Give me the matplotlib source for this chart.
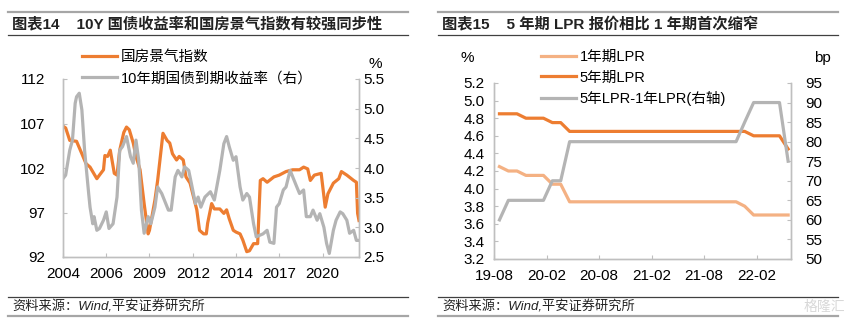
import matplotlib
matplotlib.use("Agg")
import matplotlib.pyplot as plt
from matplotlib.lines import Line2D
import pandas as pd

plt.rcParams['font.family'] = ['Liberation Sans', 'Noto Sans CJK SC']

# ---- chart 14: house climate index vs 10y gov bond yield ----
house_dates = ['2004-01', '2004-03', '2004-06', '2004-11', '2005-03', '2005-06', '2005-09',
               '2006-02', '2006-04', '2006-07', '2006-08', '2006-10', '2006-12', '2007-03',
               '2007-05', '2007-07', '2007-10', '2007-12', '2008-02', '2008-05', '2008-07',
               '2008-10', '2009-01', '2009-04', '2009-05', '2009-09', '2009-11', '2010-03',
               '2010-06', '2010-08', '2010-10', '2011-01', '2011-03', '2011-06', '2011-08',
               '2011-11', '2012-01', '2012-04', '2012-06', '2012-09', '2012-11', '2012-12',
               '2013-03', '2013-05', '2013-09', '2013-12', '2014-02', '2014-04', '2014-07',
               '2014-09', '2014-12', '2015-02', '2015-05', '2015-07', '2015-10', '2016-01',
               '2016-03', '2016-05', '2016-08', '2017-01', '2017-05', '2017-10', '2018-03',
               '2018-08', '2018-11', '2019-02', '2019-04', '2019-07', '2019-12', '2020-03',
               '2020-05', '2020-09', '2021-01', '2021-03', '2021-07', '2021-12', '2022-02',
               '2022-03', '2022-04']
house_index = [106.7, 106.5, 105.1, 105.0, 103.6, 102.5, 102.1,
               100.8, 101.2, 101.8, 103.4, 103.3, 104.0, 101.4,
               101.2, 104.0, 106.0, 106.6, 106.3, 104.8, 103.3,
               101.8, 98.0, 94.6, 95.0, 98.4, 100.6, 105.9,
               105.1, 104.8, 103.6, 102.9, 103.3, 102.9, 101.0,
               100.3, 99.1, 97.3, 95.0, 94.6, 94.6, 95.8,
               98.0, 97.4, 97.4, 96.9, 97.3, 96.3, 95.0,
               94.8, 94.6, 93.9, 92.6, 92.7, 93.5, 93.5,
               100.6, 100.8, 100.4, 101.0, 101.2, 101.6, 101.8,
               101.8, 102.1, 101.9, 100.6, 101.2, 101.4, 97.6,
               99.1, 100.3, 100.8, 101.6, 101.2, 100.6, 100.4,
               96.9, 96.1]

bond_dates = ['2004-01', '2004-03', '2004-06', '2004-08', '2004-10', '2004-11', '2005-01',
              '2005-03', '2005-05', '2005-08', '2005-09', '2005-11', '2005-12', '2006-02',
              '2006-04', '2006-07', '2006-09', '2006-11', '2007-02', '2007-05', '2007-07',
              '2007-09', '2007-12', '2008-03', '2008-05', '2008-07', '2008-09', '2008-11',
              '2009-01', '2009-04', '2009-06', '2009-09', '2009-11', '2010-02', '2010-04',
              '2010-07', '2010-09', '2010-12', '2011-02', '2011-05', '2011-07', '2011-10',
              '2011-12', '2012-03', '2012-05', '2012-07', '2012-10', '2013-02', '2013-05',
              '2013-09', '2013-12', '2014-02', '2014-04', '2014-07', '2014-09', '2014-12',
              '2015-02', '2015-05', '2015-07', '2015-10', '2015-12', '2016-05', '2016-08',
              '2016-10', '2017-01', '2017-03', '2017-05', '2017-08', '2017-10', '2018-01',
              '2018-03', '2018-06', '2018-08', '2018-11', '2019-01', '2019-04', '2019-06',
              '2019-09', '2019-11', '2020-02', '2020-04', '2020-06', '2020-09', '2020-11',
              '2021-02', '2021-04', '2021-07', '2021-09', '2021-12', '2022-02', '2022-04']
bond_yield = [3.82, 3.88, 4.30, 4.47, 5.09, 5.20, 5.26,
              4.98, 4.30, 3.57, 3.34, 3.06, 3.18, 2.95,
              2.98, 3.12, 3.26, 2.98, 3.06, 3.51, 4.30,
              4.36, 4.53, 4.19, 4.08, 4.47, 4.13, 3.29,
              2.90, 3.18, 3.06, 3.34, 3.68, 3.57, 3.46,
              3.29, 3.29, 3.85, 3.96, 3.85, 4.02, 3.96,
              3.74, 3.40, 3.51, 3.34, 3.51, 3.60, 3.46,
              3.96, 4.41, 4.53, 4.36, 4.13, 4.19, 3.68,
              3.46, 3.57, 3.51, 3.06, 2.84, 2.89, 2.95,
              2.75, 2.73, 3.34, 3.40, 3.63, 3.68, 3.96,
              3.85, 3.68, 3.57, 3.63, 3.18, 3.18, 3.29,
              3.12, 3.23, 3.00, 2.73, 2.56, 2.95, 3.12,
              3.26, 3.23, 3.12, 2.90, 2.95, 2.78, 2.78]

left_ticks = ['2004-01', '2006-09', '2009-05', '2012-01', '2014-09', '2017-05', '2020-01']
left_tick_labels = ['2004', '2006', '2009', '2012', '2014', '2017', '2020']

# ---- chart 15: LPR ----
lpr_months = ['2019-08', '2019-09', '2019-10', '2019-11', '2019-12', '2020-01', '2020-02',
              '2020-03', '2020-04', '2020-05', '2020-06', '2020-07', '2020-08', '2020-09',
              '2020-10', '2020-11', '2020-12', '2021-01', '2021-02', '2021-03', '2021-04',
              '2021-05', '2021-06', '2021-07', '2021-08', '2021-09', '2021-10', '2021-11',
              '2021-12', '2022-01', '2022-02', '2022-03', '2022-04', '2022-05']
lpr_1y = [4.25, 4.20, 4.20, 4.15, 4.15, 4.15, 4.05,
          4.05, 3.85, 3.85, 3.85, 3.85, 3.85, 3.85,
          3.85, 3.85, 3.85, 3.85, 3.85, 3.85, 3.85,
          3.85, 3.85, 3.85, 3.85, 3.85, 3.85, 3.85,
          3.80, 3.70, 3.70, 3.70, 3.70, 3.70]
lpr_5y = [4.85, 4.85, 4.85, 4.80, 4.80, 4.80, 4.75,
          4.75, 4.65, 4.65, 4.65, 4.65, 4.65, 4.65,
          4.65, 4.65, 4.65, 4.65, 4.65, 4.65, 4.65,
          4.65, 4.65, 4.65, 4.65, 4.65, 4.65, 4.65,
          4.65, 4.60, 4.60, 4.60, 4.60, 4.45]
spread_bp = [60, 65, 65, 65, 65, 65, 70,
             70, 80, 80, 80, 80, 80, 80,
             80, 80, 80, 80, 80, 80, 80,
             80, 80, 80, 80, 80, 80, 80,
             85, 90, 90, 90, 90, 75]

right_ticks = ['2019-08', '2020-02', '2020-08', '2021-02', '2021-08', '2022-02']
right_tick_labels = ['19-08', '20-02', '20-08', '21-02', '21-08', '22-02']

ORANGE = '#ED7D31'
LIGHT_ORANGE = '#F4B183'
GRAY = '#B4B4B4'
SPINE = '#BFBFBF'

W, H = 849, 325
fig = plt.figure(figsize=(W / 100, H / 100), dpi=100)


def fx(px):
    return px / W


def fy(py):
    return 1 - py / H


def hline(x0, x1, y, color, lw):
    fig.add_artist(Line2D([fx(x0), fx(x1)], [fy(y), fy(y)], color=color, lw=lw,
                          transform=fig.transFigure))


def style_axes(ax, ax2):
    for a in (ax, ax2):
        a.spines['top'].set_visible(False)
        for s in ('left', 'right', 'bottom'):
            a.spines[s].set_color(SPINE)
            a.spines[s].set_linewidth(1.0)
        a.tick_params(direction='in', color=SPINE, length=3, labelsize=11)


# ---------- left chart ----------
ax1 = fig.add_axes([fx(63), fy(257), fx(359) - fx(63), fy(79) - fy(257)])
ax1b = ax1.twinx()
hd = pd.to_datetime(house_dates)
bd = pd.to_datetime(bond_dates)
l1, = ax1.plot(hd, house_index, color=ORANGE, lw=2.3, solid_joinstyle='round')
l2, = ax1b.plot(bd, bond_yield, color=GRAY, lw=2.3, solid_joinstyle='round')
ax1.set_ylim(92, 112)
ax1.set_yticks([92, 97, 102, 107, 112])
ax1b.set_ylim(2.5, 5.5)
ax1b.set_yticks([2.5, 3.0, 3.5, 4.0, 4.5, 5.0, 5.5])
ax1b.set_yticklabels(['%.1f' % v for v in [2.5, 3.0, 3.5, 4.0, 4.5, 5.0, 5.5]])
ax1.set_xlim(pd.Timestamp('2004-01-01'), pd.Timestamp('2022-04-01'))
ax1.set_xticks(pd.to_datetime(left_ticks))
ax1.set_xticklabels(left_tick_labels)
style_axes(ax1, ax1b)
ax1.tick_params(axis='y', pad=13)
ax1.tick_params(axis='x', pad=7)
ax1b.tick_params(axis='y', pad=3)

fig.legend([l1, l2], ['国房景气指数', '10年期国债到期收益率（右）'], loc='upper left',
           bbox_to_anchor=(fx(82), fy(50)), frameon=False, borderpad=0, borderaxespad=0,
           handlelength=2.4, handletextpad=0.25, labelspacing=0.5, fontsize=10.5)
fig.text(fx(375), fy(64), '%', fontsize=11, ha='center', va='center')

# ---------- right chart ----------
ax2 = fig.add_axes([fx(494), fy(259), fx(791) - fx(494), fy(83) - fy(259)])
ax2b = ax2.twinx()
ld = pd.to_datetime(lpr_months) + pd.Timedelta(days=19)
r1, = ax2.plot(ld, lpr_1y, color=LIGHT_ORANGE, lw=2.3)
r2, = ax2.plot(ld, lpr_5y, color=ORANGE, lw=2.3)
r3, = ax2b.plot(ld, spread_bp, color=GRAY, lw=2.3)
ax2.set_ylim(3.2, 5.2)
yt = [3.2, 3.4, 3.6, 3.8, 4.0, 4.2, 4.4, 4.6, 4.8, 5.0, 5.2]
ax2.set_yticks(yt)
ax2.set_yticklabels(['%.1f' % v for v in yt])
ax2b.set_ylim(50, 95)
ax2b.set_yticks(range(50, 96, 5))
ax2.set_xlim(pd.Timestamp('2019-08-01'), pd.Timestamp('2022-05-30'))
ax2.set_xticks(pd.to_datetime(right_ticks))
ax2.set_xticklabels(right_tick_labels)
style_axes(ax2, ax2b)
ax2.tick_params(axis='y', pad=7)
ax2.tick_params(axis='x', pad=7)
ax2b.tick_params(axis='y', pad=10)

fig.legend([r1, r2, r3], ['1年期LPR', '5年期LPR', '5年LPR-1年LPR(右轴)'], loc='upper left',
           bbox_to_anchor=(fx(541), fy(50)), frameon=False, borderpad=0, borderaxespad=0,
           handlelength=2.4, handletextpad=0.25, labelspacing=0.45, fontsize=10.5)
fig.text(fx(467), fy(58), '%', fontsize=11, ha='center', va='center')
fig.text(fx(822), fy(58), 'bp', fontsize=11, ha='center', va='center')

# ---------- titles and footers ----------
for x0, x1, title in [(8, 408, '图表14    10Y 国债收益率和国房景气指数有较强同步性'),
                      (438, 838, '图表15    5 年期 LPR 报价相比 1 年期首次缩窄')]:
    hline(x0, x1, 12, '#A6A6A6', 1.6)
    hline(x0, x1, 35, '#404040', 0.9)
    fig.text(fx(x0 + 4), fy(24), title, fontsize=11, fontweight='bold',
             ha='left', va='center', color='#222222')
    hline(x0, x1, 297, '#404040', 0.9)
    hline(x0, x1, 316, '#A6A6A6', 1.6)
    fig.text(fx(x0 + 4), fy(307), '资料来源：Wind,平安证券研究所', fontsize=9.5,
             style='italic', ha='left', va='center', color='#222222')

fig.text(fx(845), fy(307), '格隆汇', fontsize=10, ha='right', va='center', color='#D8D8D8')

fig.savefig('out.png', dpi=100)
